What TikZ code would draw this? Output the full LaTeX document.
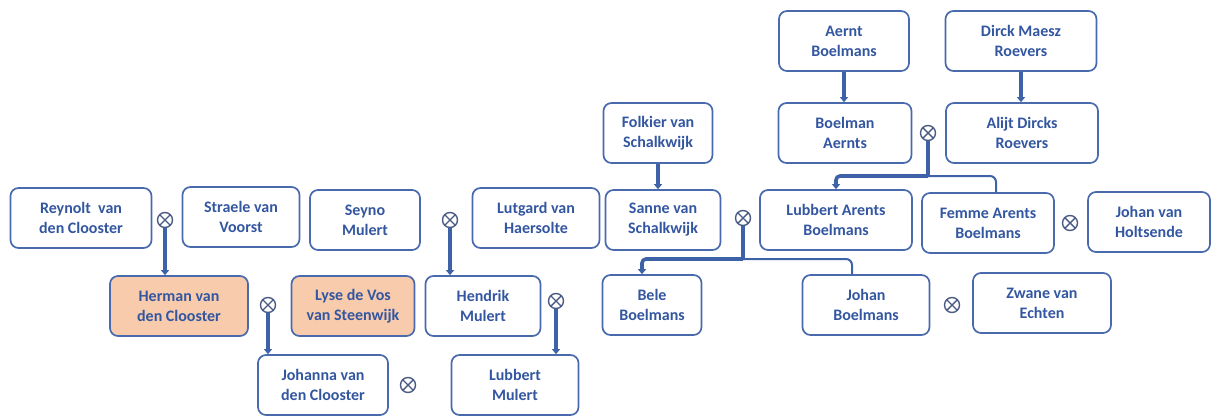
\documentclass[tikz,border=0pt]{standalone}
\usepackage{fontspec}
\setmainfont{Carlito}
\usetikzlibrary{arrows.meta, positioning, calc}
\definecolor{cBOX}{HTML}{4A6AAE}
\definecolor{cTXT}{HTML}{3356A0}
\definecolor{cLINK}{HTML}{3D62A8}
\definecolor{cRING}{HTML}{4B5B85}
\definecolor{cSELF}{HTML}{F8CBAD}
\tikzset{
  person/.style={draw=cBOX, line width=1.7pt, rounded corners=8pt, align=center,
    text=cTXT, font=\fontsize{16}{20}\selectfont\bfseries, minimum height=60pt,
    inner sep=2pt},
  self/.style={person, fill=cSELF},
  wed/.style={circle, draw=cRING, line width=1.4pt, minimum size=15pt, inner sep=0pt,
    path picture={\draw[cRING, line width=1.4pt]
      (path picture bounding box.north west) -- (path picture bounding box.south east)
      (path picture bounding box.north east) -- (path picture bounding box.south west);}},
  link/.style={draw=cLINK, line width=3.6pt},
  side/.style={draw=cLINK, line width=2pt, rounded corners=6pt},
  tip/.style={-{Triangle[length=5pt,width=8pt]}}
}

\begin{document}
\begin{tikzpicture}[x=1pt, y=-1pt]
  \useasboundingbox (0,0) rectangle (1212,415);

  % Grandparents, top
  \node[person, minimum width=130] (aernt) at (844,41) {Aernt\\Boelmans};
  \node[person, minimum width=151] (dirck) at (1021,41) {Dirck Maesz\\Roevers};

  % Second row
  \node[person, minimum width=109] (folkier) at (658,133) {Folkier van\\Schalkwijk};
  \node[person, minimum width=133] (boelman) at (845,133) {Boelman\\Aernts};
  \node[wed] (w1) at (928,133) {};
  \node[person, minimum width=152] (alijt) at (1022,133) {Alijt Dircks\\Roevers};

  % Third row
  \node[person, minimum width=141] (reynolt) at (81,218) {Reynolt~ van\\den Clooster};
  \node[wed] (w2) at (165,220) {};
  \node[person, minimum width=117] (straele) at (241,217) {Straele van\\Voorst};
  \node[person, minimum width=110] (seyno) at (365,220) {Seyno\\Mulert};
  \node[wed] (w3) at (450,220) {};
  \node[person, minimum width=127] (lutgard) at (536,218) {Lutgard van\\Haersolte};
  \node[person, minimum width=115] (sanne) at (663,220) {Sanne van\\Schalkwijk};
  \node[wed] (w4) at (743,218) {};
  \node[person, minimum width=152] (lubA) at (836,220) {Lubbert Arents\\Boelmans};
  \node[person, minimum width=132] (femme) at (988,223) {Femme Arents\\Boelmans};
  \node[wed] (w5) at (1070,223) {};
  \node[person, minimum width=122] (holts) at (1149,222) {Johan van\\Holtsende};

  % Fourth row
  \node[self, minimum width=138] (herman) at (179,306) {Herman van\\den Clooster};
  \node[wed] (w6) at (268,305) {};
  \node[self, minimum width=123] (lyse) at (353,306) {Lyse de Vos\\van Steenwijk};
  \node[person, minimum width=115] (hendrik) at (483,306) {Hendrik\\Mulert};
  \node[wed] (w7) at (556,301) {};
  \node[person, minimum width=99] (bele) at (652,305) {Bele\\Boelmans};
  \node[person, minimum width=127] (johanB) at (866,305) {Johan\\Boelmans};
  \node[wed] (w8) at (952,305) {};
  \node[person, minimum width=138] (zwane) at (1042,303) {Zwane van\\Echten};

  % Bottom row
  \node[person, minimum width=130] (johanna) at (323,385) {Johanna van\\den Clooster};
  \node[wed] (w9) at (408,385) {};
  \node[person, minimum width=127] (lubM) at (515,385) {Lubbert\\Mulert};

  % Descent lines
  \draw[link, tip] (aernt.south) -- (aernt.south |- boelman.north);
  \draw[link, tip] (dirck.south) -- (dirck.south |- alijt.north);
  \draw[link, tip] (folkier.south) -- (folkier.south |- sanne.north);
  \draw[link, tip] (w2.south) -- (w2.south |- herman.north);
  \draw[link, tip] (w3.south) -- (w3.south |- hendrik.north);
  \draw[link, tip] (w6.south) -- (w6.south |- johanna.north);
  \draw[link, tip] (w7.south) -- (w7.south |- lubM.north);

  % Branching lines
  \coordinate (j1) at (928,176);
  \draw[link] (w1.south) -- (j1);
  \draw[link, tip, rounded corners=4pt] (j1) -| (lubA.north);
  \draw[side] (j1) -| ([xshift=8pt]femme.north);

  \coordinate (j2) at (743,259);
  \draw[link] (w4.south) -- (j2);
  \draw[link, tip, rounded corners=4pt] (j2) -| ([xshift=-10pt]bele.north);
  \draw[side] (j2) -| ([xshift=-14pt]johanB.north);
\end{tikzpicture}
\end{document}
